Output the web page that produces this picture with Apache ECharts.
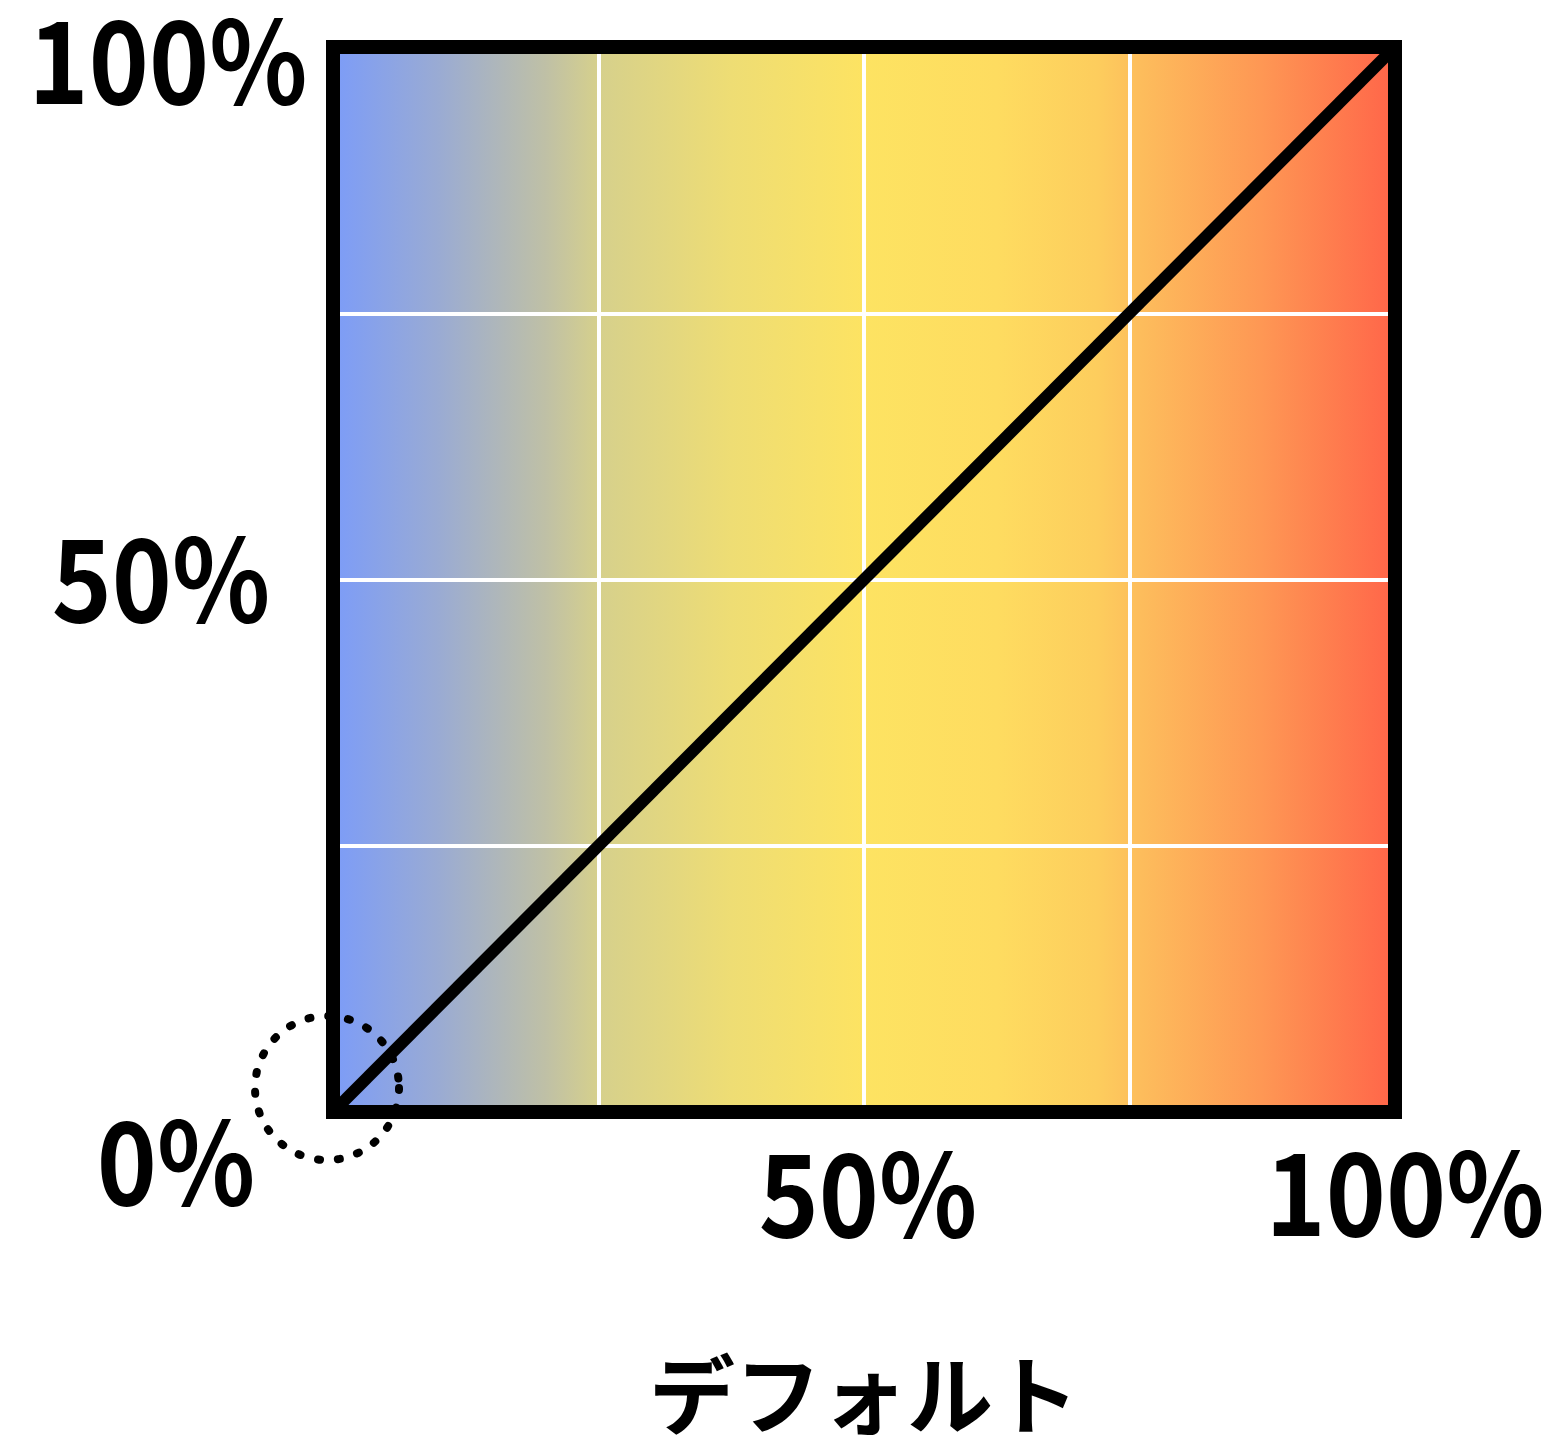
<!DOCTYPE html>
<html>
<head>
<meta charset="utf-8">
<script src="https://cdn.jsdelivr.net/npm/echarts@6/dist/echarts.min.js"></script>
<style>
  html, body { margin: 0; padding: 0; background: #fff; }
  #draw { width: 1553px; height: 1438px; }
</style>
</head>
<body>
<div id="draw"></div>
<script>
// data
var lineData = [[0, 0], [100, 100]];
var circleData = [[0, 0]];
var yTickValues = [100, 50, 0];
var yTickLabels = ["100%", "50%", "0%"];
var xTickValues = [50, 100];
var xTickLabels = ["50%", "100%"];
var axisName = "デフォルト";
var bgStops = [
  [0, "#7c9cf8"],
  [0.1, "#9aabd3"],
  [0.2, "#bfc0a6"],
  [0.25, "#d6d08c"],
  [0.375, "#eedd74"],
  [0.5, "#fde362"],
  [0.625, "#fedc60"],
  [0.72, "#fdcd5d"],
  [0.76, "#fdbd5c"],
  [0.875, "#fe9754"],
  [1, "#ff6549"]
];

var chart = echarts.init(document.getElementById("draw"));
var font = '"Noto Sans CJK JP", "Noto Sans", sans-serif';

var borderLine = {
  show: true,
  onZero: false,
  lineStyle: { color: "#000", width: 14, cap: "square" }
};
var whiteSplit = {
  show: true,
  lineStyle: { color: "#fff", width: 4 }
};

var option = {
  animation: false,
  grid: {
    left: 333,
    top: 47,
    right: 158,
    bottom: 326,
    show: true,
    z: 0,
    containLabel: false,
    outerBoundsMode: "none",
    borderWidth: 0,
    backgroundColor: {
      type: "linear",
      x: 0, y: 0, x2: 1, y2: 0,
      colorStops: bgStops.map(function (s) {
        return { offset: s[0], color: s[1] };
      })
    }
  },
  xAxis: [
    {
      type: "value",
      min: 0,
      max: 100,
      interval: 25,
      position: "bottom",
      z: 1,
      axisLine: borderLine,
      axisTick: { show: false },
      axisLabel: { show: false },
      splitLine: whiteSplit,
      name: axisName,
      nameLocation: "middle",
      nameGap: 283,
      nameTextStyle: {
        color: "#000",
        fontSize: 86,
        fontWeight: "bold",
        fontFamily: font,
        verticalAlign: "middle"
      }
    },
    {
      type: "value",
      min: 0,
      max: 100,
      position: "top",
      z: 1,
      axisLine: borderLine,
      axisTick: { show: false },
      axisLabel: { show: false },
      splitLine: { show: false }
    }
  ],
  yAxis: [
    {
      type: "value",
      min: 0,
      max: 100,
      interval: 25,
      position: "left",
      z: 1,
      axisLine: borderLine,
      axisTick: { show: false },
      axisLabel: { show: false },
      splitLine: whiteSplit
    },
    {
      type: "value",
      min: 0,
      max: 100,
      position: "right",
      z: 1,
      axisLine: borderLine,
      axisTick: { show: false },
      axisLabel: { show: false },
      splitLine: { show: false }
    }
  ],
  series: [
    {
      type: "line",
      data: lineData,
      symbol: "none",
      z: 3,
      lineStyle: { color: "#000", width: 12 }
    },
    {
      // dotted ring round the origin
      type: "scatter",
      data: circleData,
      symbol: "circle",
      symbolSize: 144,
      symbolOffset: [-6, -24],
      z: 4,
      silent: true,
      itemStyle: {
        color: "rgba(0,0,0,0)",
        opacity: 1,
        borderColor: "#000",
        borderWidth: 8,
        borderType: [2, 18],
        borderCap: "round"
      }
    }
  ]
};

chart.setOption(option);

// tick labels, placed from the axis scale
var yOffsets = [[-165, 14], [-172, -1], [-157, 50]];
var xOffsets = [[4, 82], [10, 81]];
var labelStyle = function (text, p) {
  return {
    type: "text",
    z: 10,
    x: p[0],
    y: p[1],
    scaleX: 0.895,
    style: {
      text: text,
      align: "center",
      verticalAlign: "middle",
      fill: "#000",
      fontSize: 114,
      fontWeight: "bold",
      fontFamily: font
    }
  };
};
var labels = [];
yTickValues.forEach(function (v, i) {
  var p = chart.convertToPixel({ gridIndex: 0 }, [0, v]);
  labels.push(labelStyle(yTickLabels[i], [p[0] + yOffsets[i][0], p[1] + yOffsets[i][1]]));
});
xTickValues.forEach(function (v, i) {
  var p = chart.convertToPixel({ gridIndex: 0 }, [v, 0]);
  labels.push(labelStyle(xTickLabels[i], [p[0] + xOffsets[i][0], p[1] + xOffsets[i][1]]));
});
chart.setOption({ graphic: labels });
</script>
</body>
</html>
